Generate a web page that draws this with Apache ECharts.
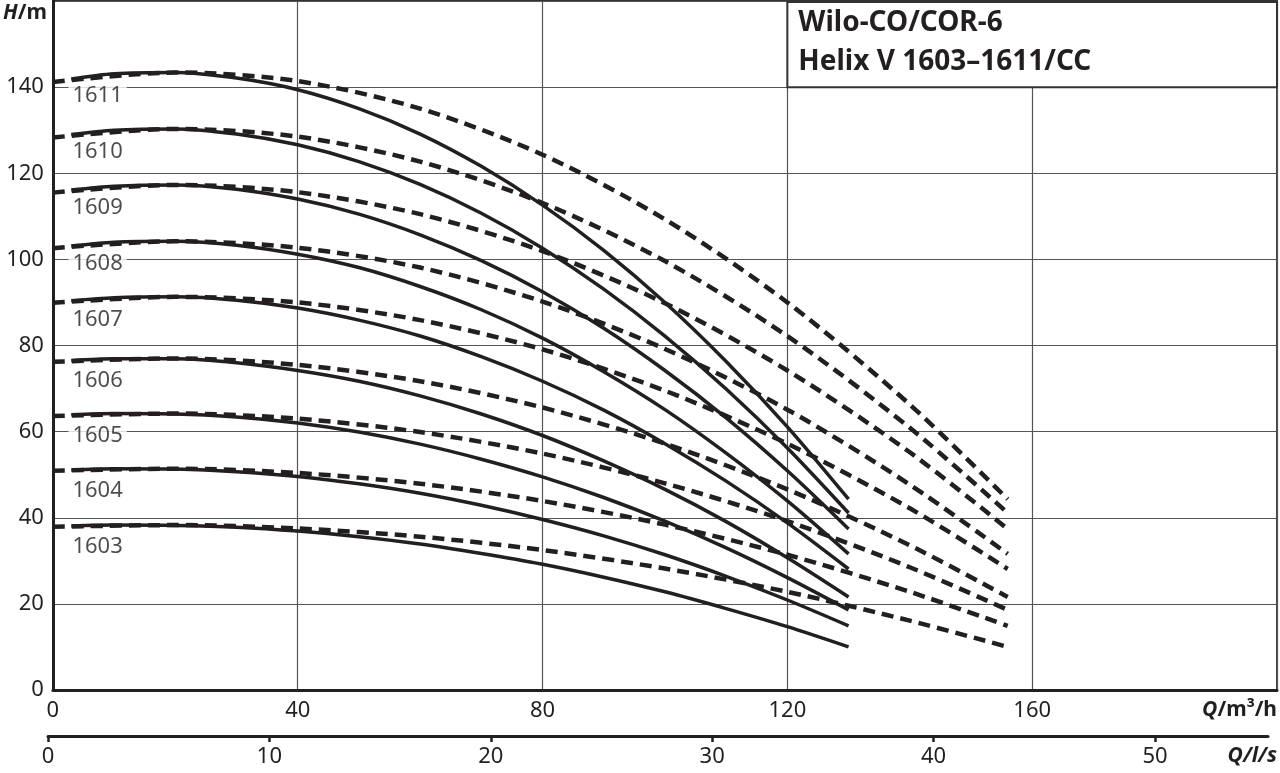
<!DOCTYPE html>
<html><head><meta charset="utf-8">
<script src="https://cdn.jsdelivr.net/npm/echarts@6/dist/echarts.min.js"></script>
<style>html,body{margin:0;padding:0;background:#fff}#c{width:1280px;height:773px}</style>
</head><body><div id="c"></div>
<script>
// ---- data ----
const pumpNames = ['1603','1604','1605','1606','1607','1608','1609','1610','1611'];
const qSolid = [3,10,20,30,40,50,60,70,80,90,100,110,120,130];
const solid1603 = [38.1,38.3,38.2,37.8,36.9,35.6,33.9,31.7,29.2,26.2,22.8,18.9,14.7,10.0];
const solid1604 = [51.1,51.4,51.3,50.7,49.6,47.9,45.7,42.9,39.6,35.8,31.4,26.4,20.9,14.9];
const solid1605 = [63.9,64.2,64.1,63.4,62.0,59.9,57.1,53.6,49.5,44.7,39.2,33.0,26.1,18.6];
const solid1606 = [76.5,76.9,76.9,76.0,74.2,71.7,68.3,64.1,59.1,53.2,46.6,39.1,30.7,21.6];
const solid1607 = [90.4,91.1,91.3,90.5,88.7,85.9,82.2,77.4,71.7,65.0,57.2,48.5,38.8,28.1];
const solid1608 = [103.1,104.0,104.2,103.3,101.2,98.1,93.7,88.3,81.7,73.9,65.1,55.0,43.9,31.6];
const solid1609 = [116.1,117.0,117.3,116.3,114.0,110.5,105.7,99.7,92.5,84.0,74.2,63.2,50.9,37.4];
const solid1610 = [129.0,130.0,130.3,129.1,126.6,122.7,117.4,110.7,102.6,93.1,82.2,69.9,56.2,41.1];
const solid1611 = [141.9,143.1,143.4,142.1,139.4,135.0,129.1,121.6,112.6,102.1,90.0,76.3,61.1,44.3];

const qDashed = [0,20,40,60,80,100,120,140,156];
const dashed1603 = [37.9,38.3,37.5,35.6,32.5,28.2,22.8,16.1,10.0];
const dashed1604 = [50.9,51.4,50.4,47.9,43.9,38.4,31.4,22.8,14.9];
const dashed1605 = [63.6,64.2,63.0,59.9,54.9,48.0,39.2,28.5,18.6];
const dashed1606 = [76.2,77.0,75.5,71.7,65.6,57.2,46.6,33.6,21.6];
const dashed1607 = [89.9,91.3,90.0,85.9,79.1,69.5,57.2,42.2,28.1];
const dashed1608 = [102.6,104.2,102.7,98.1,90.2,79.2,65.1,47.7,31.6];
const dashed1609 = [115.5,117.3,115.6,110.5,101.9,89.8,74.2,55.2,37.4];
const dashed1610 = [128.3,130.3,128.5,122.7,113.1,99.6,82.2,60.9,41.1];
const dashed1611 = [141.2,143.4,141.4,135.0,124.3,109.3,90.0,66.3,44.3];

const xTicksM3h = [0,40,80,120,160];
const xTicksLs = [0,10,20,30,40,50];
const yTicks = [0,20,40,60,80,100,120,140];
const titleLines = ['Wilo-CO/COR-6','Helix V 1603–1611/CC'];

// ---- chart ----
const solids = [solid1603,solid1604,solid1605,solid1606,solid1607,solid1608,solid1609,solid1610,solid1611];
const dasheds = [dashed1603,dashed1604,dashed1605,dashed1606,dashed1607,dashed1608,dashed1609,dashed1610,dashed1611];
const INK = '#231f20';
const FONT = "'Noto Sans', 'DejaVu Sans', sans-serif";
const gridLeft = 48, gridRight = 2, grid2Right = 12;
const lsMax = (200/3.6) * ((1280-gridLeft-grid2Right)/(1280-gridLeft-gridRight));

const series = [];
dasheds.forEach((d,i)=>{
  series.push({type:'line', xAxisIndex:0, yAxisIndex:0, smooth:0.3, showSymbol:false, silent:true,
    data: qDashed.map((q,k)=>[q,d[k]]),
    lineStyle:{color:INK, width:4.5, type:[12,7], cap:'butt'}, z:3});
});
solids.forEach((d,i)=>{
  series.push({type:'line', xAxisIndex:0, yAxisIndex:0, smooth:0.3, showSymbol:false, silent:true,
    data: qSolid.map((q,k)=>[q,d[k]]),
    lineStyle:{color:INK, width:3.5}, z:4});
});
series.push({type:'scatter', xAxisIndex:0, yAxisIndex:0, symbolSize:0, silent:true, z:5,
  data: pumpNames.map((n,i)=>({name:n, value:[7.3, solids[i][1]]})),
  label:{show:true, position:'bottom', distance:11, formatter:'{b}', color:INK, fontFamily:FONT,
    fontSize:22, backgroundColor:'#fff', padding:[0,4,0,4]}});

const chart = echarts.init(document.getElementById('c'), null, {renderer:'canvas'});
const opt = {
  animation:false,
  backgroundColor:'#fff',
  textStyle:{fontFamily:FONT},
  grid:[
    {left:gridLeft, right:gridRight, top:1, bottom:83, show:true, borderColor:'#333', borderWidth:1.8, containLabel:false},
    {left:gridLeft, right:grid2Right, top:1, bottom:83, show:false, containLabel:false}
  ],
  xAxis:[
    {type:'value', gridIndex:0, min:0, max:200, interval:40,
     axisLine:{show:true, onZero:false, lineStyle:{color:INK, width:3}},
     axisTick:{show:false},
     axisLabel:{color:INK, fontSize:22, fontFamily:FONT, margin:10, customValues:xTicksM3h},
     splitLine:{show:true, lineStyle:{color:'#555', width:1.2}},
     name:'{q|Q}{u|/m³/h}', nameLocation:'end', nameGap:0,
     nameTextStyle:{align:'right', verticalAlign:'top', padding:[10,0,0,0],
       rich:{q:{fontSize:21, fontWeight:'bold', fontStyle:'italic', color:INK, fontFamily:FONT},
             u:{fontSize:21, fontWeight:'bold', color:INK, fontFamily:FONT}}}},
    {type:'value', gridIndex:1, min:0, max:lsMax, position:'bottom', offset:46,
     axisLine:{show:true, onZero:false, lineStyle:{color:INK, width:3}},
     axisTick:{show:true, length:6, lineStyle:{color:INK, width:2.5}, customValues:xTicksLs},
     axisLabel:{color:INK, fontSize:22, fontFamily:FONT, margin:10, customValues:xTicksLs},
     splitLine:{show:false},
     name:'{q|Q}{u|/l/s}', nameLocation:'end', nameGap:grid2Right-3,
     nameTextStyle:{align:'right', verticalAlign:'top', padding:[10,0,0,0],
       rich:{q:{fontSize:21, fontWeight:'bold', fontStyle:'italic', color:INK, fontFamily:FONT},
             u:{fontSize:21, fontWeight:'bold', fontStyle:'italic', color:INK, fontFamily:FONT}}}}
  ],
  yAxis:[
    {type:'value', gridIndex:0, min:0, max:160, interval:20,
     axisLine:{show:true, onZero:false, lineStyle:{color:INK, width:3}},
     axisTick:{show:false},
     axisLabel:{color:INK, fontSize:22, fontFamily:FONT, margin:9, customValues:yTicks},
     splitLine:{show:true, lineStyle:{color:'#555', width:1.2}},
     name:'{h|H}{u|/m}', nameLocation:'end', nameGap:-2,
     nameTextStyle:{align:'right', verticalAlign:'top', padding:[0,6,0,0],
       rich:{h:{fontSize:21, fontWeight:'bold', fontStyle:'italic', color:INK, fontFamily:FONT},
             u:{fontSize:21, fontWeight:'bold', color:INK, fontFamily:FONT}}}},
    {type:'value', gridIndex:1, min:0, max:1, show:false}
  ],
  series: series
};
chart.setOption(opt);

const p0 = chart.convertToPixel({gridIndex:0}, [120,160]);
const p1 = chart.convertToPixel({gridIndex:0}, [200,140]);
chart.setOption({graphic:[
  {type:'rect', z:10, shape:{x:p0[0], y:p0[1]+1, width:p1[0]-p0[0], height:p1[1]-p0[1]-1},
   style:{fill:'#fff', stroke:'#333', lineWidth:2}},
  {type:'text', z:11, x:p0[0]+11, y:p0[1]+22, style:{text:titleLines[0], fill:INK,
   font:"bold 28px 'Noto Sans', sans-serif", verticalAlign:'middle'}},
  {type:'text', z:11, x:p0[0]+11, y:p0[1]+61, style:{text:titleLines[1], fill:INK,
   font:"bold 28px 'Noto Sans', sans-serif", verticalAlign:'middle'}}
]});
</script>
</body></html>
